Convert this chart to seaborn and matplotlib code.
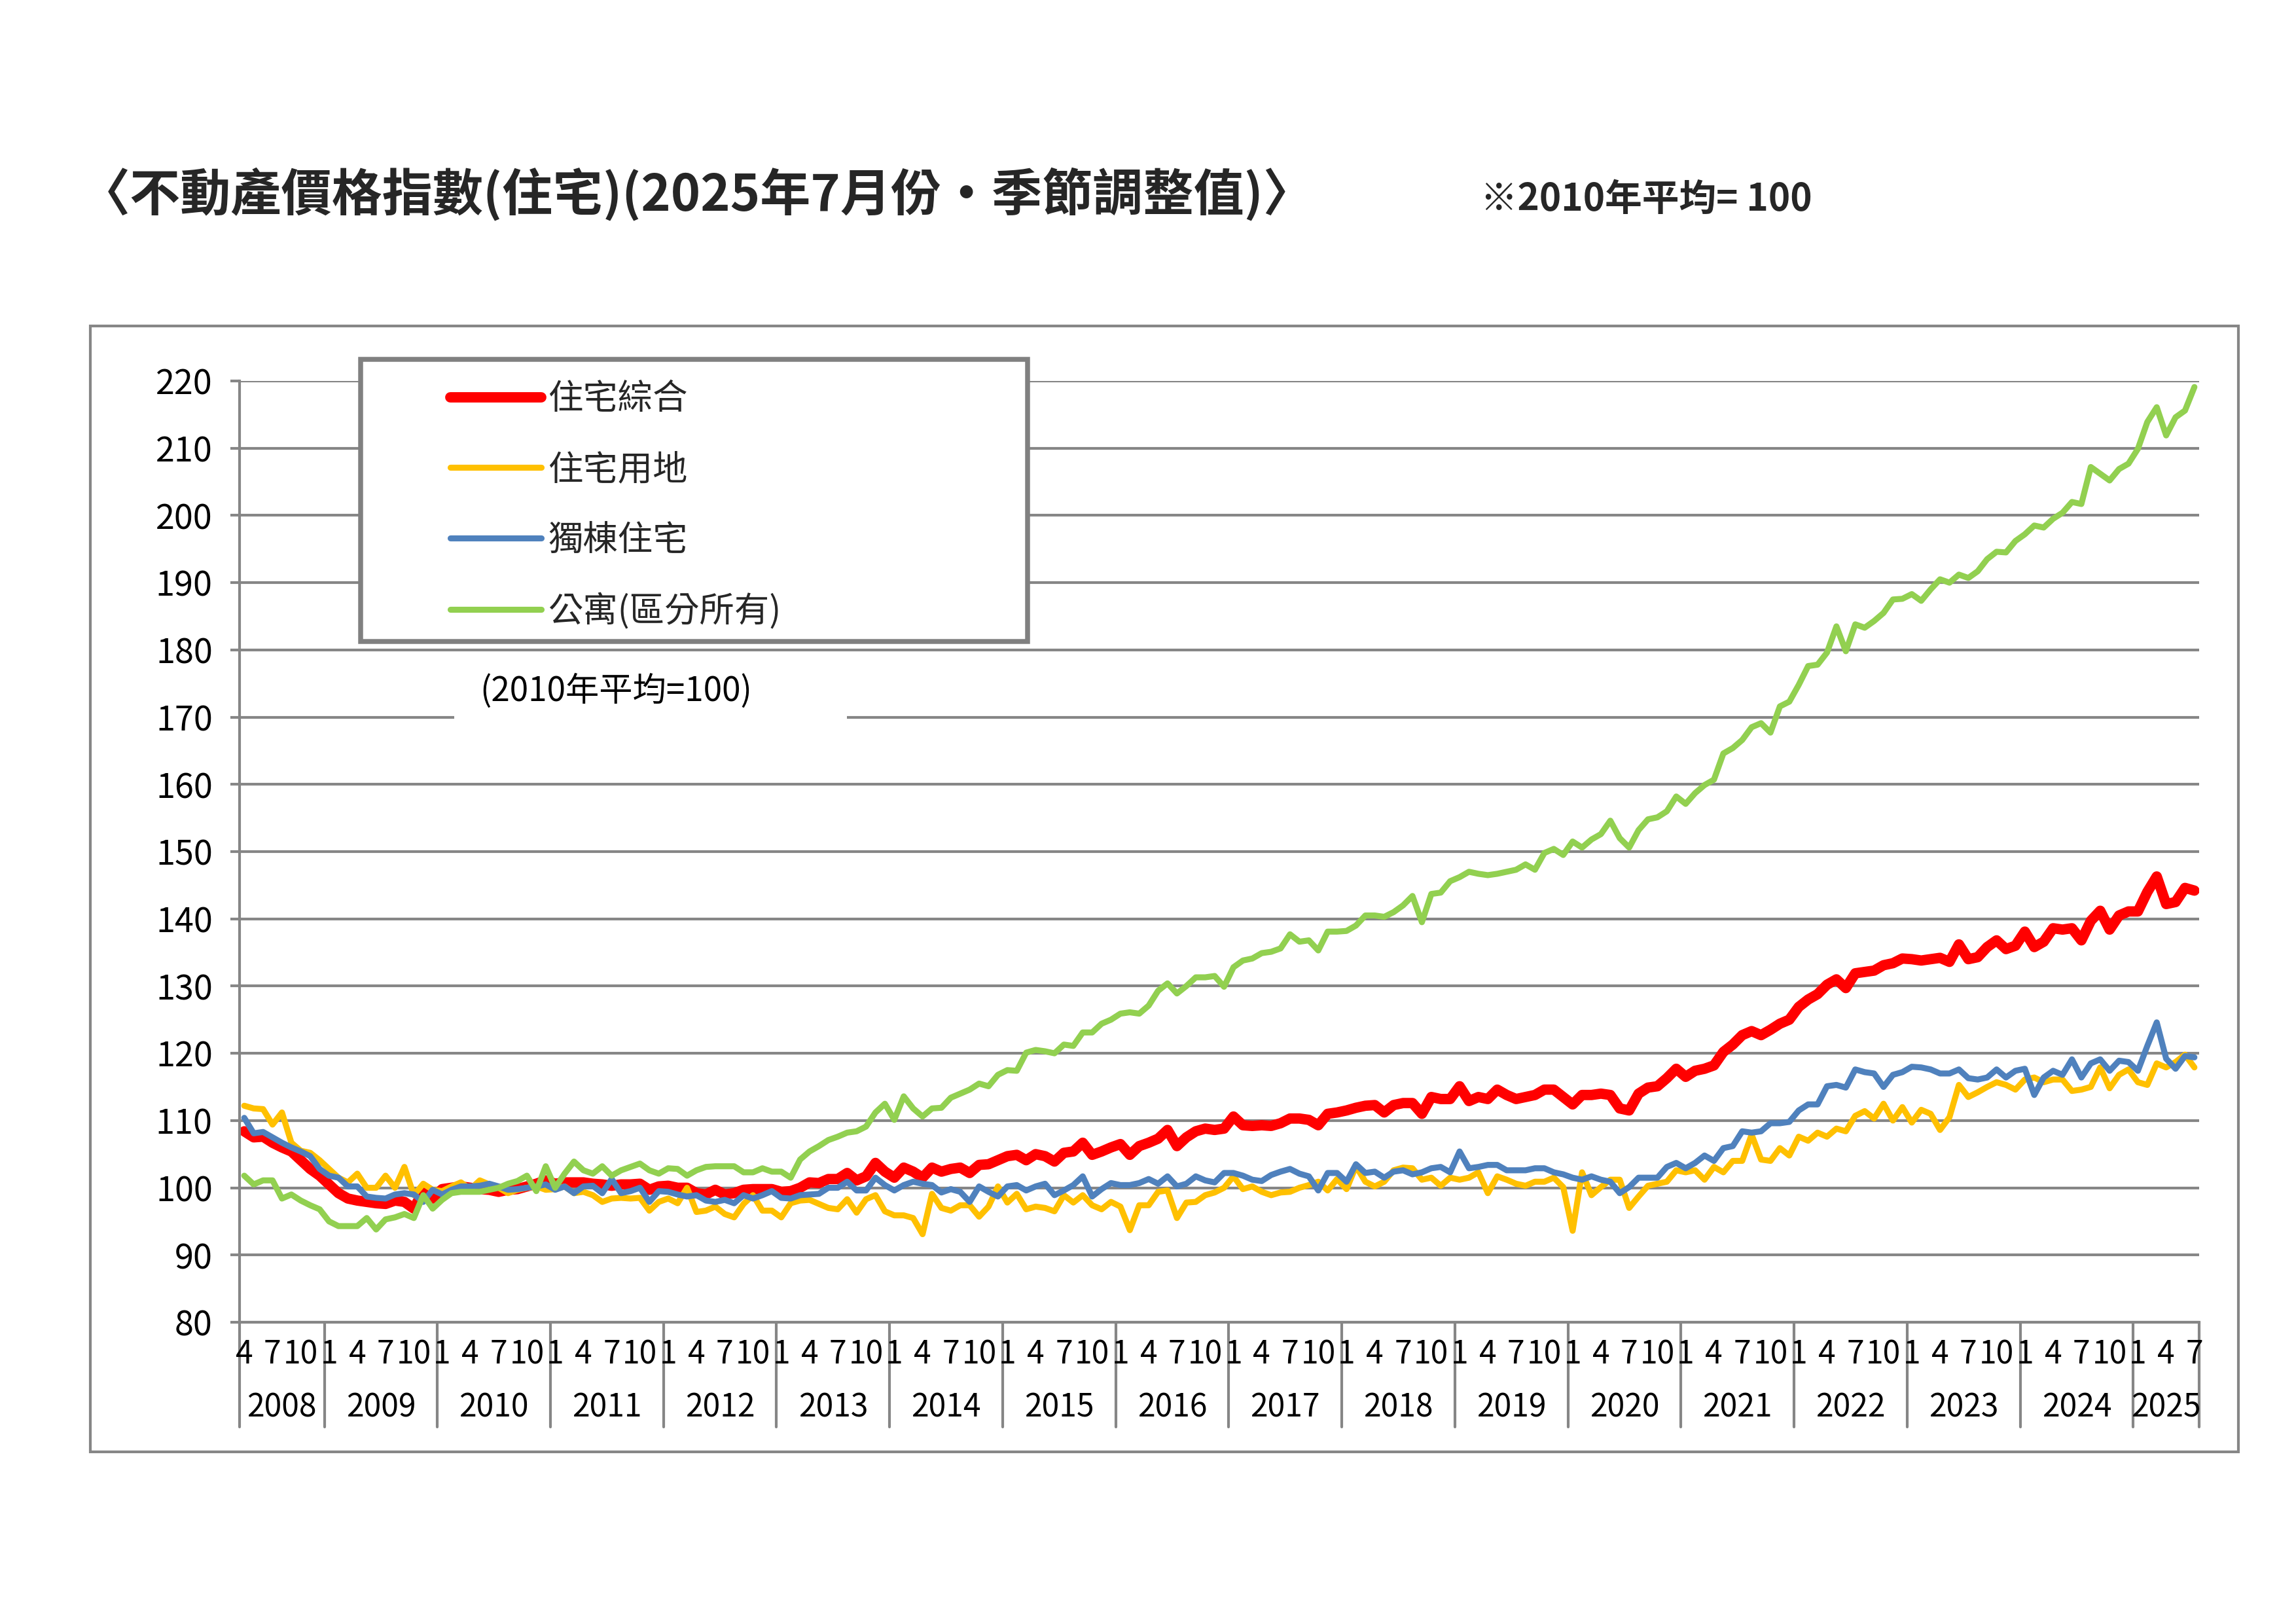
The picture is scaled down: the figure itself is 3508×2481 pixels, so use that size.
import matplotlib
matplotlib.use('Agg')
import matplotlib.pyplot as plt
import matplotlib.transforms as mtransforms
from matplotlib.patches import Rectangle
import pandas as pd
import seaborn as sns

# 不動產價格指數(住宅) 2008年4月 ~ 2025年7月, 季節調整值, 2010年平均=100
start_year, start_month = 2008, 4
n_months = 208

red_zonghe = [  # 住宅綜合
    108.4, 107.5, 107.6, 106.7, 106.0, 105.4, 104.1, 102.8, 101.8,
    100.5, 99.2, 98.4, 98.1, 97.9, 97.7, 97.6, 98.1, 97.9, 96.9, 99.5, 98.4,
    99.8, 100.0, 100.2, 100.0, 99.8, 99.7, 99.4, 99.7, 99.8, 100.2, 100.6, 101.1,
    100.6, 100.8, 100.8, 100.8, 100.6, 100.5, 100.3, 100.5, 100.5, 100.6, 99.7, 100.2,
    100.3, 100.0, 100.0, 99.2, 99.0, 99.7, 99.0, 99.2, 99.7, 99.8, 99.8, 99.8,
    99.4, 99.5, 100.0, 100.8, 100.7, 101.3, 101.3, 102.2, 101.1, 101.7, 103.7, 102.4,
    101.5, 103.0, 102.4, 101.5, 103.0, 102.4, 102.8, 103.0, 102.2, 103.4, 103.5, 104.1,
    104.7, 104.9, 104.1, 105.0, 104.7, 103.9, 105.2, 105.4, 106.7, 104.9, 105.4, 106.0,
    106.5, 104.9, 106.2, 106.7, 107.3, 108.6, 106.2, 107.5, 108.4, 108.8, 108.6, 108.8,
    110.6, 109.3, 109.2, 109.3, 109.2, 109.6, 110.3, 110.3, 110.1, 109.3, 111.0, 111.2,
    111.5, 111.9, 112.2, 112.3, 111.2, 112.3, 112.6, 112.6, 111.0, 113.5, 113.2, 113.2,
    115.1, 112.9, 113.5, 113.2, 114.6, 113.8, 113.2, 113.5, 113.8, 114.6, 114.6, 113.5,
    112.4, 113.8, 113.8, 114.0, 113.8, 111.8, 111.5, 114.0, 114.9, 115.1, 116.3, 117.7,
    116.5, 117.4, 117.7, 118.2, 120.2, 121.3, 122.7, 123.3, 122.7, 123.5, 124.4, 125.0,
    126.9, 128.0, 128.8, 130.2, 131.0, 129.7, 131.9, 132.1, 132.3, 133.1, 133.4, 134.1,
    134.0, 133.8, 134.0, 134.2, 133.6, 136.2, 134.0, 134.3, 135.8, 136.8, 135.5, 136.0,
    138.1, 135.8, 136.6, 138.6, 138.4, 138.6, 136.8, 139.7, 141.2, 138.4, 140.5, 141.1,
    141.1, 144.0, 146.3, 142.2, 142.5, 144.6, 144.2,
]

yellow_yongdi = [  # 住宅用地
    112.2, 111.8, 111.7, 109.4, 111.2, 106.7, 105.5, 105.2, 104.1,
    102.8, 101.5, 100.8, 102.1, 100.0, 100.0, 101.8, 100.0, 103.1, 98.9, 100.6, 99.7,
    99.5, 100.2, 100.8, 99.8, 101.1, 100.5, 100.0, 99.2, 99.7, 100.0, 100.2, 99.7,
    99.8, 100.2, 99.2, 99.4, 98.9, 97.9, 98.4, 98.5, 98.4, 98.5, 96.6, 97.9,
    98.4, 97.7, 100.0, 96.4, 96.6, 97.2, 96.1, 95.6, 97.6, 98.9, 96.6, 96.6,
    95.6, 97.7, 98.1, 98.2, 97.6, 97.0, 96.8, 98.3, 96.3, 98.3, 98.9, 96.5,
    95.9, 95.9, 95.5, 93.1, 99.1, 97.0, 96.6, 97.4, 97.4, 95.7, 97.2, 100.2,
    97.8, 99.1, 96.8, 97.2, 97.0, 96.5, 98.9, 97.8, 98.9, 97.4, 96.8, 97.9,
    97.2, 93.7, 97.4, 97.4, 99.4, 99.6, 95.5, 97.8, 97.9, 98.9, 99.3, 100.0,
    101.7, 99.8, 100.2, 99.4, 98.9, 99.3, 99.4, 100.0, 100.4, 100.9, 99.6, 101.3,
    99.8, 103.2, 100.9, 100.2, 100.9, 102.6, 103.0, 102.9, 101.2, 101.5, 100.3, 101.5,
    101.2, 101.5, 102.3, 99.2, 101.7, 101.2, 100.6, 100.3, 100.9, 100.9, 101.5, 100.1,
    93.6, 102.3, 98.9, 100.1, 101.2, 101.2, 97.0, 98.7, 100.3, 100.6, 100.9, 102.6,
    102.3, 102.6, 101.2, 103.1, 102.3, 104.0, 104.0, 107.9, 104.2, 104.0, 105.9, 104.8,
    107.6, 107.0, 108.2, 107.6, 108.8, 108.4, 110.7, 111.4, 110.3, 112.5, 110.0, 112.0,
    109.7, 111.6, 111.0, 108.6, 110.5, 115.3, 113.5, 114.2, 115.0, 115.7, 115.3, 114.6,
    116.1, 116.4, 115.7, 116.1, 116.1, 114.4, 114.6, 115.0, 117.9, 114.8, 116.8, 117.6,
    115.7, 115.3, 118.5, 117.9, 118.7, 119.8, 117.9,
]

blue_dudong = [  # 獨棟住宅
    110.4, 108.1, 108.3, 107.5, 106.7, 106.0, 105.4, 104.7, 102.8,
    101.8, 101.5, 100.2, 100.2, 98.7, 98.5, 98.4, 99.0, 99.2, 99.0, 97.9, 99.7,
    99.0, 99.7, 100.2, 100.2, 100.3, 100.6, 100.2, 99.7, 99.8, 100.0, 100.2, 100.5,
    99.7, 100.2, 99.2, 100.2, 100.3, 99.2, 101.3, 99.2, 99.5, 100.0, 97.9, 99.5,
    99.4, 99.0, 98.7, 98.9, 98.1, 97.9, 98.2, 97.7, 98.9, 98.4, 98.9, 99.5,
    98.5, 98.4, 98.9, 99.0, 99.1, 100.0, 100.0, 100.9, 99.6, 99.6, 101.5, 100.4,
    99.6, 100.4, 100.9, 100.6, 100.4, 99.3, 99.8, 99.4, 97.9, 100.2, 99.4, 98.7,
    100.2, 100.4, 99.6, 100.2, 100.6, 98.9, 99.6, 100.4, 101.7, 98.7, 99.8, 100.7,
    100.4, 100.4, 100.7, 101.3, 100.6, 101.7, 100.2, 100.6, 101.7, 101.1, 100.8, 102.2,
    102.2, 101.8, 101.2, 101.0, 101.9, 102.4, 102.8, 102.1, 101.7, 99.6, 102.2, 102.2,
    100.9, 103.5, 102.2, 102.4, 101.5, 102.4, 102.6, 102.0, 102.3, 102.9, 103.1, 102.3,
    105.4, 102.9, 103.1, 103.4, 103.4, 102.6, 102.6, 102.6, 102.9, 102.9, 102.3, 102.0,
    101.5, 101.2, 101.7, 101.2, 100.9, 99.2, 100.1, 101.5, 101.5, 101.5, 103.1, 103.7,
    102.9, 103.7, 104.8, 104.0, 105.9, 106.2, 108.4, 108.2, 108.4, 109.6, 109.6, 109.8,
    111.5, 112.4, 112.4, 115.1, 115.3, 114.9, 117.6, 117.2, 117.0, 115.0, 116.8, 117.2,
    118.0, 117.9, 117.6, 117.0, 117.0, 117.6, 116.3, 116.1, 116.4, 117.6, 116.4, 117.4,
    117.7, 113.8, 116.4, 117.4, 116.8, 119.1, 116.4, 118.5, 119.1, 117.4, 118.9, 118.7,
    117.4, 121.1, 124.6, 119.2, 117.7, 119.6, 119.4,
]

green_gongyu = [  # 公寓(區分所有)
    101.8, 100.5, 101.1, 101.1, 98.4, 99.0, 98.1, 97.4, 96.8,
    95.0, 94.3, 94.3, 94.3, 95.5, 93.8, 95.3, 95.6, 96.1, 95.5, 98.9, 96.9,
    98.2, 99.2, 99.4, 99.4, 99.4, 99.7, 100.0, 100.6, 101.0, 101.8, 99.5, 103.2,
    100.0, 102.1, 103.9, 102.6, 102.1, 103.2, 101.8, 102.6, 103.1, 103.6, 102.6, 102.1,
    102.9, 102.8, 101.8, 102.6, 103.1, 103.2, 103.2, 103.2, 102.3, 102.3, 102.9, 102.4,
    102.4, 101.5, 104.2, 105.4, 106.2, 107.1, 107.6, 108.2, 108.4, 109.1, 111.2, 112.5,
    110.1, 113.6, 111.8, 110.6, 111.8, 111.9, 113.4, 114.0, 114.6, 115.5, 115.1, 116.8,
    117.5, 117.4, 120.1, 120.5, 120.3, 120.0, 121.3, 121.1, 123.1, 123.1, 124.4, 125.0,
    125.9, 126.1, 125.9, 127.1, 129.3, 130.4, 128.9, 130.0, 131.3, 131.3, 131.5, 129.9,
    132.8, 133.8, 134.1, 134.9, 135.1, 135.6, 137.7, 136.6, 136.8, 135.3, 138.1, 138.1,
    138.2, 139.0, 140.5, 140.5, 140.3, 141.0, 142.0, 143.4, 139.5, 143.7, 143.9, 145.6,
    146.2, 147.0, 146.7, 146.5, 146.7, 147.0, 147.3, 148.1, 147.3, 149.8, 150.4, 149.5,
    151.5, 150.6, 151.8, 152.6, 154.6, 152.0, 150.6, 153.2, 154.8, 155.1, 156.0, 158.2,
    157.1, 158.7, 159.9, 160.7, 164.6, 165.4, 166.6, 168.5, 169.1, 167.7, 171.6, 172.3,
    174.8, 177.6, 177.8, 179.6, 183.5, 179.8, 183.8, 183.3, 184.3, 185.5, 187.5, 187.6,
    188.3, 187.3, 189.0, 190.5, 190.0, 191.2, 190.7, 191.7, 193.5, 194.6, 194.5, 196.2,
    197.2, 198.5, 198.2, 199.5, 200.4, 202.0, 201.7, 207.2, 206.2, 205.2, 206.9, 207.7,
    209.9, 213.9, 216.1, 211.9, 214.6, 215.6, 219.1,
]

series_names = ['住宅綜合', '住宅用地', '獨棟住宅', '公寓(區分所有)']
series_values = [red_zonghe, yellow_yongdi, blue_dudong, green_gongyu]
series_colors = ['#FF0000', '#FFC000', '#4F81BD', '#92D050']
series_widths = [3.8, 2.2, 2.2, 2.2]

month_tick_labels = [1, 4, 7, 10]
y_ticks = list(range(80, 221, 10))

for vals in series_values:
    assert len(vals) == n_months, len(vals)

# 月份 / 年份 (類別軸)
months, years = [], []
y, m = start_year, start_month
for i in range(n_months):
    months.append(m)
    years.append(y)
    m += 1
    if m > 12:
        m = 1
        y += 1

rows = []
for name, vals in zip(series_names, series_values):
    for i, v in enumerate(vals):
        rows.append({'idx': i, 'value': v, 'series': name})
df = pd.DataFrame(rows)

sns.set_style('white')
plt.rcParams['font.family'] = ['Noto Sans CJK TC', 'DejaVu Sans']

W, H = 3508, 2481
fig = plt.figure(figsize=(W / 300, H / 300), dpi=300)
fig.patch.set_facecolor('white')

gray = '#868686'

# 外框
fig.add_artist(Rectangle((138 / W, 1 - 2218 / H), (3420 - 138) / W, (2218 - 498) / H,
                         transform=fig.transFigure, fill=False, edgecolor=gray,
                         linewidth=1.0, zorder=0))

ax = fig.add_axes([366 / W, 1 - 2020 / H, (3360 - 366) / W, (2020 - 582) / H])

sns.lineplot(data=df, x='idx', y='value', hue='series', size='series',
             hue_order=series_names, size_order=series_names,
             palette=dict(zip(series_names, series_colors)),
             sizes=dict(zip(series_names, series_widths)),
             estimator=None, errorbar=None, legend=False, ax=ax)
data_lines = list(ax.get_lines())
for ln in data_lines:
    ln.set_solid_joinstyle('round')
    ln.set_solid_capstyle('round')

ax.set_xlim(-0.5, n_months - 0.5)
ax.set_ylim(80, 220)
ax.set_yticks(y_ticks)
ax.set_xticks([])
ax.set_xlabel('')
ax.set_ylabel('')
ax.yaxis.grid(True, color=gray, linewidth=1.0)
ax.xaxis.grid(False)
ax.set_axisbelow(True)
for side in ['top', 'right']:
    ax.spines[side].set_visible(False)
for side in ['left', 'bottom']:
    ax.spines[side].set_color(gray)
    ax.spines[side].set_linewidth(1.0)
ax.tick_params(axis='y', direction='out', length=3.4, width=1.0, color=gray,
               pad=6.5, labelsize=12.5, labelcolor='black', left=True)

# 類別軸: 月 / 年
trans = mtransforms.blended_transform_factory(ax.transData, ax.transAxes)
for i, mm in enumerate(months):
    if mm in month_tick_labels:
        ax.text(i, -0.0345, str(mm), transform=trans, ha='center', va='center',
                fontsize=11.5, color='black')
bounds = [0] + [i for i in range(1, n_months) if months[i] == 1] + [n_months]
for b0, b1 in zip(bounds[:-1], bounds[1:]):
    ax.text((b0 + b1 - 1) / 2, -0.0911, str(years[b0]), transform=trans,
            ha='center', va='center', fontsize=11.5, color='black')
for b in bounds:
    ax.plot([b - 0.5, b - 0.5], [0, -0.111], transform=trans, color=gray,
            linewidth=1.0, clip_on=False)

# (2010年平均=100)
ax.add_patch(Rectangle((22.3, 167.0), 41.7, 9.0, facecolor='white',
                       edgecolor='none', zorder=1.5))
ax.text(25.0, 173.8, '(2010年平均=100)', ha='left', va='center', fontsize=12.3,
        color='black', zorder=4)

# 圖例
fig.add_artist(Rectangle((551 / W, 1 - 980 / H), (1570 - 551) / W, (980 - 549) / H,
                         transform=fig.transFigure, facecolor='white',
                         edgecolor='#808080', linewidth=1.8, zorder=3))
fig.legend(data_lines, series_names, loc='center left',
           bbox_to_anchor=(688 / W, 1 - 772 / H), frameon=False,
           fontsize=12.8, handlelength=2.6, handletextpad=0.2,
           labelspacing=0.99, borderpad=0, borderaxespad=0)

fig.text(122 / W, 1 - 297 / H, '〈不動產價格指數(住宅)(2025年7月份·季節調整值)〉',
         fontsize=18.5, fontweight='bold', ha='left', va='center')
fig.text(2262 / W, 1 - 305 / H, '※2010年平均= 100', fontsize=13.6,
         fontweight='bold', ha='left', va='center')

fig.savefig('out.png', dpi=300, facecolor='white')
